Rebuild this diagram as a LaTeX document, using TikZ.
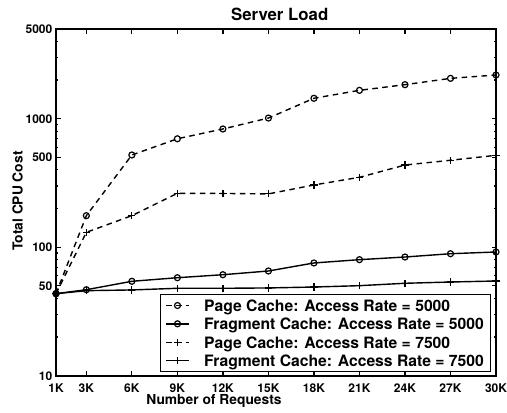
\documentclass[tikz,border=0pt]{standalone}
\usepackage{fontspec}
\setmainfont{TeX Gyre Heros}
\begin{document}
\begin{tikzpicture}[x=1bp,y=-1bp,
  declare function={px(\k)=56+(\k-1)*440/29; py(\v)=375.7-128.5*(log10(\v)-1);},
  dline/.style={line width=1.4bp, dash pattern=on 5.5bp off 4.5bp},
  sline/.style={line width=1.4bp},
  axisline/.style={line width=1.8bp},
  tickline/.style={line width=1.2bp},
  ticklab/.style={inner sep=0pt, font=\fontsize{12bp}{14bp}\selectfont\bfseries},
  labfont/.style={inner sep=0pt, font=\fontsize{13.8bp}{16bp}\selectfont\bfseries},
  legfont/.style={inner sep=0pt, anchor=base west, font=\fontsize{15.7bp}{18bp}\selectfont\bfseries},
  cmk/.pic={\draw[line width=1.2bp, solid] (0,0) circle[radius=3bp];},
  pmk/.pic={\draw[line width=1.2bp, solid] (-3.6bp,0) -- (3.6bp,0) (0,-3.6bp) -- (0,3.6bp);},
]
\useasboundingbox (0,0) rectangle (507,412);
\fill[white] (0,0) rectangle (507,412);

% ---- data ----
% Page Cache 5000
\draw[dline] plot coordinates {({px(1)},{py(43.5)}) ({px(3)},{py(176)}) ({px(6)},{py(522)}) ({px(9)},{py(698)}) ({px(12)},{py(832)}) ({px(15)},{py(1012)}) ({px(18)},{py(1442)}) ({px(21)},{py(1663)}) ({px(24)},{py(1840)}) ({px(27)},{py(2061)}) ({px(30)},{py(2188)})};
\foreach \k/\v in {1/43.5,3/176,6/522,9/698,12/832,15/1012,18/1442,21/1663,24/1840,27/2061,30/2188}
  \pic at ({px(\k)},{py(\v)}) {cmk};
% Page Cache 7500
\draw[dline] plot coordinates {({px(1)},{py(43.5)}) ({px(3)},{py(130.6)}) ({px(6)},{py(176)}) ({px(9)},{py(262.7)}) ({px(12)},{py(262)}) ({px(15)},{py(260)}) ({px(18)},{py(305)}) ({px(21)},{py(350)}) ({px(24)},{py(436)}) ({px(27)},{py(475)}) ({px(30)},{py(519)})};
\foreach \k/\v in {1/43.5,3/130.6,6/176,9/262.7,12/262,15/260,18/305,21/350,24/436,27/475,30/519}
  \pic at ({px(\k)},{py(\v)}) {pmk};
% Fragment Cache 5000
\draw[sline] plot coordinates {({px(1)},{py(43.5)}) ({px(3)},{py(46.7)}) ({px(6)},{py(54.3)}) ({px(9)},{py(57.9)}) ({px(12)},{py(61.1)}) ({px(15)},{py(65.3)}) ({px(18)},{py(75.4)}) ({px(21)},{py(80)}) ({px(24)},{py(83.9)}) ({px(27)},{py(89)}) ({px(30)},{py(91.8)})};
\foreach \k/\v in {1/43.5,3/46.7,6/54.3,9/57.9,12/61.1,15/65.3,18/75.4,21/80,24/83.9,27/89,30/91.8}
  \pic at ({px(\k)},{py(\v)}) {cmk};
% Fragment Cache 7500
\draw[sline] plot coordinates {({px(1)},{py(43.5)}) ({px(3)},{py(45.9)}) ({px(6)},{py(46.5)}) ({px(9)},{py(47.9)}) ({px(12)},{py(47.9)}) ({px(15)},{py(48.2)}) ({px(18)},{py(49)}) ({px(21)},{py(50.2)}) ({px(24)},{py(52.4)}) ({px(27)},{py(53.6)}) ({px(30)},{py(54.6)})};
\foreach \k/\v in {1/43.5,3/45.9,6/46.5,9/47.9,12/47.9,15/48.2,18/49,21/50.2,24/52.4,27/53.6,30/54.6}
  \pic at ({px(\k)},{py(\v)}) {pmk};
\fill ({px(1)},{py(43.5)}) circle[radius=3.3bp];

% ---- legend ----
\draw[line width=1bp, fill=white] (160,294.3) rectangle (490.7,371.7);
\coordinate (la1) at (166,305.5); \coordinate (lb1) at (189,305.5);
\coordinate (la2) at (166,323.8); \coordinate (lb2) at (189,323.8);
\coordinate (la3) at (166,342.4); \coordinate (lb3) at (189,342.4);
\coordinate (la4) at (166,360.7); \coordinate (lb4) at (189,360.7);
\draw[dline] (la1) -- (lb1); \pic at (177.5,305.5) {cmk};
\draw[sline] (la2) -- (lb2); \pic at (177.5,323.8) {cmk};
\draw[dline] (la3) -- (lb3); \pic at (177.5,342.4) {pmk};
\draw[sline] (la4) -- (lb4); \pic at (177.5,360.7) {pmk};
\node[legfont] (leg1) at (204,311.2) {Page Cache: Access Rate = 5000};
\node[legfont] (leg2) at (204,329.5) {Fragment Cache: Access Rate = 5000};
\node[legfont] (leg3) at (204,348.1) {Page Cache: Access Rate = 7500};
\node[legfont] (leg4) at (204,366.4) {Fragment Cache: Access Rate = 7500};

% ---- axes ----
\draw[axisline] (56,29) rectangle (496,375.7);
\foreach \k in {3,6,9,12,15,18,21,24,27} {
  \draw[tickline] ({px(\k)},375.7) -- ++(0,-4.5);
  \draw[tickline] ({px(\k)},29) -- ++(0,4.5);
}
\foreach \v in {10,50,100,500,1000,5000} {
  \draw[tickline] (56,{py(\v)}) -- ++(4.5,0);
  \draw[tickline] (496,{py(\v)}) -- ++(-4.5,0);
}
\foreach \v in {20,30,40,60,70,80,90,200,300,400,600,700,800,900,2000,3000,4000} {
  \draw[tickline] (56,{py(\v)}) -- ++(2.2,0);
  \draw[tickline] (496,{py(\v)}) -- ++(-2.2,0);
}
\foreach \v in {10,50,100,500,1000,5000}
  \node[ticklab, anchor=east] (yl\v) at (52.5,{py(\v)}) {\v};
\foreach \k in {1,3,6,9,12,15,18,21,24,27,30}
  \node[ticklab, anchor=base] (xl\k) at ({px(\k)},392.5) {\k K};

\node[inner sep=0pt, anchor=base, font=\fontsize{16.8bp}{19bp}\selectfont\bfseries] (title) at (279.7,20) {Server Load};
\node[labfont, anchor=base] (xlab) at (214,404.5) {Number of Requests};
\node[labfont, rotate=90] (ylab) at (17.5,201) {Total CPU Cost};
\end{tikzpicture}
\end{document}
